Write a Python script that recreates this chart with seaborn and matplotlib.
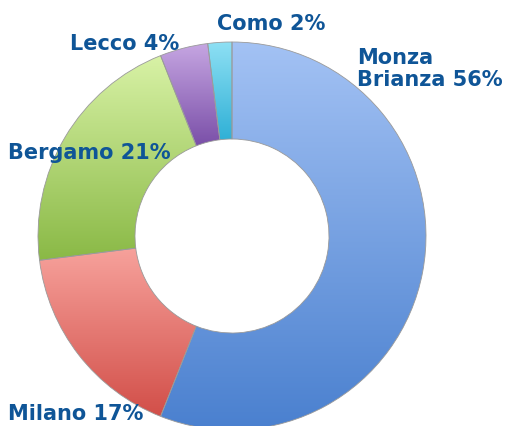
import matplotlib
matplotlib.use("Agg")
import matplotlib.pyplot as plt
import numpy as np
import seaborn as sns
from matplotlib.colors import LinearSegmentedColormap

sns.set_theme(style="white")
plt.rcParams["font.family"] = ["DejaVu Sans"]

# data (clockwise from 12 o'clock)
names = ["Monza\nBrianza", "Milano", "Bergamo", "Lecco", "Como"]
shares = [56, 17, 21, 4, 2]
top_colors = ["#a3c2f4", "#f7a29c", "#d8f2a6", "#c6a6e2", "#8ee0f4"]
bottom_colors = ["#4a80cf", "#d24f49", "#8ab946", "#7a4fa8", "#2fb0d6"]

W, H = 509, 427
fig = plt.figure(figsize=(W / 100, H / 100), dpi=100)
ax = fig.add_axes([0, 0, 1, 1])

center = (232, H - 237)
radius = 194

wedges, _ = ax.pie(
    shares,
    startangle=90,
    counterclock=False,
    center=center,
    radius=radius,
    wedgeprops=dict(width=radius * 0.5, edgecolor="#9a9a9a", linewidth=0.6),
    frame=True,
)

# vertical gradient inside each wedge
grad = np.linspace(1, 0, 256).reshape(-1, 1)
for w, c_top, c_bot in zip(wedges, top_colors, bottom_colors):
    bb = w.get_path().get_extents()
    cmap = LinearSegmentedColormap.from_list("g", [c_bot, c_top])
    w.set_facecolor("none")
    im = ax.imshow(
        grad,
        cmap=cmap,
        extent=[bb.x0, bb.x1, bb.y0, bb.y1],
        origin="upper",
        aspect="auto",
        zorder=w.get_zorder() - 0.1,
    )
    im.set_clip_path(w)

ax.set_xlim(0, W)
ax.set_ylim(0, H)
ax.set_aspect("equal")
ax.axis("off")

label_color = "#0f5597"
label_pos = [(357, H - 69), (8, H - 414), (8, H - 153), (70, H - 44), (217, H - 24)]
for name, share, (x, y) in zip(names, shares, label_pos):
    ax.text(x, y, f"{name} {share}%", ha="left", va="center", fontsize=15,
            fontweight="bold", color=label_color, linespacing=1.1)

fig.savefig("out.png", dpi=100)
